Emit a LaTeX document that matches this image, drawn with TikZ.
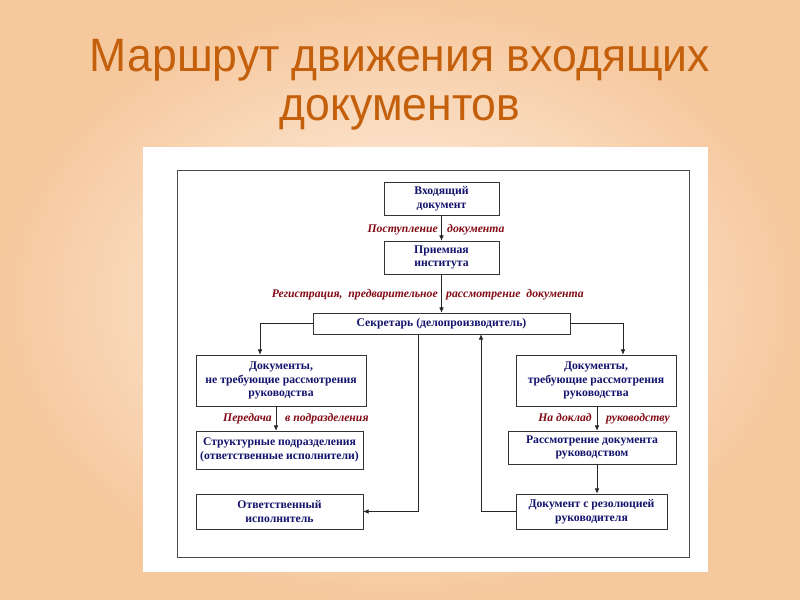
\documentclass[tikz,border=0pt]{standalone}
\usepackage{fontspec}
\setmainfont{Liberation Serif}
\newfontfamily\titlefont{Liberation Sans}
\usetikzlibrary{arrows.meta, positioning, calc}
\definecolor{bgdark}{RGB}{246,200,158}
\definecolor{bglight}{RGB}{255,246,236}
\definecolor{titleorange}{RGB}{196,96,12}
\definecolor{boxnavy}{RGB}{20,20,110}
\definecolor{lblred}{RGB}{130,10,20}
\tikzset{%
   % boxes of the route chart
   routebox/.style={
      draw=black!80,
      fill=white,
      align=center,
      inner sep=1pt,
      font=\fontsize{10}{11.6}\selectfont\bfseries,
      text=boxnavy
   },
   lbl/.style={
      inner sep=0pt,
      font=\fontsize{10}{11}\selectfont\bfseries\itshape,
      text=lblred
   },
   flow/.style={
      -{Latex[length=4.5pt, width=4pt]},
      draw=black!85,
      line width=.7pt
   },
   wire/.style={
      draw=black!85,
      line width=.7pt
   },
   title/.style={
      font=\titlefont\fontsize{40}{40}\selectfont,
      text=titleorange,
      xscale=.95
   },
}

\begin{document}
\begin{tikzpicture}[x=0.03cm, y=-0.03cm]
\useasboundingbox (0,0) rectangle (800,600);
\shade[inner color=bglight, outer color=bgdark] (0,0) rectangle (800,600);

% title
\node[title, anchor=base] (t1) at (400,72) {Маршрут движения входящих};
\node[title, anchor=base] (t2) at (400,121) {документов};

% panel and frame
\fill[white] (143,147) rectangle (708,572);
\draw[black!70, line width=.7pt] (177,170) rectangle (689,557);

\node[routebox, minimum width=115*0.03cm, minimum height=33*0.03cm] (in) at (441.5,198.5) {Входящий\\документ};
\node[routebox, minimum width=115*0.03cm, minimum height=33*0.03cm] (rec) at (441.5,257.5) {Приемная\\института};
\node[routebox, minimum width=257*0.03cm, minimum height=21*0.03cm] (sec) at (441.5,323.5) {Секретарь (делопроизводитель)};
\node[routebox, minimum width=170*0.03cm, minimum height=51*0.03cm] (nreq) at (281,380.5) {Документы,\\не требующие рассмотрения\\руководства};
\node[routebox, minimum width=160*0.03cm, minimum height=51*0.03cm] (req) at (596,380.5) {Документы,\\требующие рассмотрения\\руководства};
\node[routebox, minimum width=167*0.03cm, minimum height=38*0.03cm] (struct) at (279.5,450) {Структурные подразделения\\(ответственные исполнители)};
\node[routebox, minimum width=167*0.03cm, minimum height=35*0.03cm] (resp) at (279.5,511.5) {Ответственный\\исполнитель};
\node[routebox, minimum width=168*0.03cm, minimum height=33*0.03cm] (review) at (592,447.5) {Рассмотрение документа\\руководством};
\node[routebox, minimum width=151*0.03cm, minimum height=35*0.03cm] (resol) at (591.5,511.5) {Документ с резолюцией\\руководителя};

\coordinate (down) at (418,0);
\coordinate (up) at (481,0);
\coordinate (leftin) at (276,0);
\coordinate (rightin) at (597,0);

\draw[flow] (in) -- (rec);
\draw[flow] (rec) -- (sec);
\draw[flow] (sec.west) -| (nreq.north -| {(260,0)});
\draw[flow] (sec.east) -| (req.north -| {(623,0)});
\draw[flow] (nreq.south -| leftin) -- (struct.north -| leftin);
\draw[flow] (req.south -| rightin) -- (review.north -| rightin);
\draw[flow] (review.south -| rightin) -- (resol.north -| rightin);
\draw[flow] (sec.south -| down) |- (resp.east);
\draw[wire] (resol.west) -| (up |- resol.west);
\draw[flow] (up |- resol.west) -- (sec.south -| up);

% labels beside the arrows
\node[lbl, anchor=base east] (l1a) at (438,233) {Поступление};
\node[lbl, anchor=base west] (l1b) at (447,233) {документа};
\node[lbl, anchor=base east] (l2a) at (438,298) {Регистрация,\ \ предварительное};
\node[lbl, anchor=base west] (l2b) at (446,298) {рассмотрение\ \ документа};
\node[lbl, anchor=base east] (l3a) at (272,422) {Передача};
\node[lbl, anchor=base west] (l3b) at (285,422) {в подразделения};
\node[lbl, anchor=base east] (l4a) at (592,422) {На доклад};
\node[lbl, anchor=base west] (l4b) at (606,422) {руководству};
\end{tikzpicture}
\end{document}
